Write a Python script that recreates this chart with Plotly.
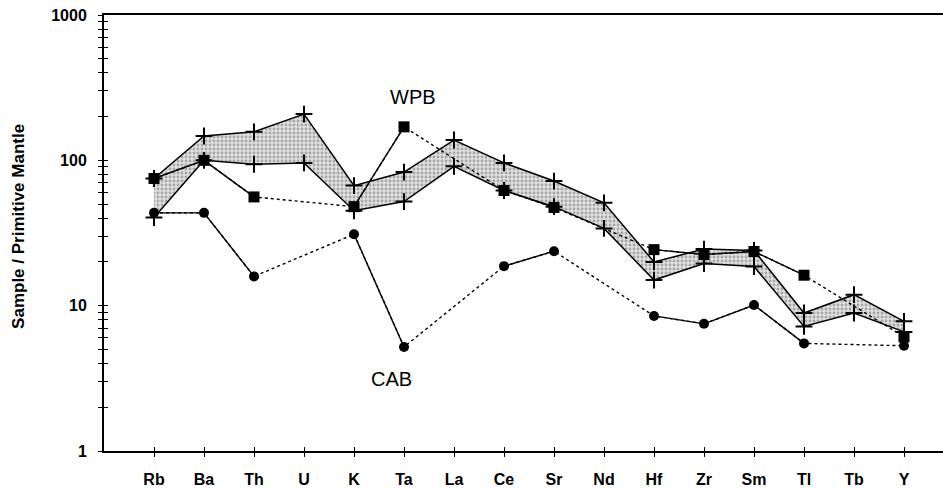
import plotly.graph_objects as go

elements = ["Rb", "Ba", "Th", "U", "K", "Ta", "La", "Ce", "Sr", "Nd", "Hf", "Zr", "Sm", "Tl", "Tb", "Y"]
wpb_upper = [75, 147, 157, 208, 67, 83, 138, 96, 72, 51, 20, 24.5, 24, 8.9, 11.9, 7.8]
wpb_lower = [40.4, 100, 94, 96, 45, 52, 91, 62, 48, 34, 15, 19.5, 18.6, 7.2, 8.9, 6.6]
wpb_square = [75, 100, 56, None, 48, 170, None, 62, 47.4, None, 24.3, 22.5, 23.6, 16.2, None, 6.1]
cab_circle = [43.5, 43.5, 15.9, None, 31, 5.2, None, 18.7, 23.7, None, 8.5, 7.5, 10.1, 5.5, None, 5.3]

y_ticks = [1, 2, 3, 4, 5, 6, 7, 8, 9, 10, 20, 30, 40, 50, 60, 70, 80, 90,
           100, 200, 300, 400, 500, 600, 700, 800, 900, 1000]
y_labels = ["1000" if v == 1000 else "100" if v == 100 else "10" if v == 10 else "1" if v == 1 else "" for v in y_ticks]

xpos = list(range(1, len(elements) + 1))

fig = go.Figure()

cross = dict(symbol="cross-thin", size=12, color="black", line=dict(width=2, color="black"))

fig.add_trace(go.Scatter(x=xpos, y=wpb_lower, mode="lines+markers",
                         line=dict(color="black", width=1.5), marker=cross, showlegend=False))
fig.add_trace(go.Scatter(x=xpos, y=wpb_upper, mode="lines+markers", fill="tonexty",
                         fillcolor="#d6d6d6",
                         fillpattern=dict(shape=".", fgcolor="#6e6e6e", bgcolor="#e0e0e0", size=4, solidity=0.4),
                         line=dict(color="black", width=1.5), marker=cross, showlegend=False))

for vals, sym, size in [(wpb_square, "square", 11), (cab_circle, "circle", 10)]:
    xs = [x for x, v in zip(xpos, vals) if v is not None]
    ys = [v for v in vals if v is not None]
    fig.add_trace(go.Scatter(x=xs, y=ys, mode="lines",
                             line=dict(color="black", width=1.4, dash="3px,3px"), showlegend=False))
    fig.add_trace(go.Scatter(x=xpos, y=vals, mode="lines+markers", connectgaps=False,
                             line=dict(color="black", width=1.4),
                             marker=dict(symbol=sym, size=size, color="black"), showlegend=False))

# dummy trace for overlay axes (inner half of crossing ticks)
fig.add_trace(go.Scatter(x=[None], y=[None], xaxis="x2", yaxis="y2", showlegend=False, hoverinfo="skip"))

tickfont = dict(family="Liberation Sans, Arial, sans-serif", size=16, color="black", weight="bold")

fig.update_layout(
    width=943, height=489,
    margin=dict(l=104, r=0, t=15, b=38),
    paper_bgcolor="white", plot_bgcolor="white",
    xaxis=dict(range=[0, 16.78], tickmode="array", tickvals=xpos, ticktext=elements,
               showgrid=False, zeroline=False, showline=True, linecolor="black", linewidth=2,
               mirror=True, ticks="outside", ticklen=4, tickwidth=1.3, tickcolor="black",
               tickfont=tickfont, ticklabelstandoff=9),
    yaxis=dict(type="log", range=[0, 3], tickmode="array", tickvals=y_ticks, ticktext=y_labels,
               showgrid=False, zeroline=False, showline=True, linecolor="black", linewidth=2,
               ticks="outside", ticklen=4, tickwidth=1.3, tickcolor="black",
               tickfont=tickfont, ticklabelstandoff=8),
    xaxis2=dict(overlaying="x", anchor="y2", range=[0, 16.78], tickmode="array", tickvals=xpos,
                showticklabels=False, showgrid=False, zeroline=False, showline=False,
                ticks="inside", ticklen=4, tickwidth=1.3, tickcolor="black", side="bottom"),
    yaxis2=dict(overlaying="y", anchor="x2", type="log", range=[0, 3], tickmode="array", tickvals=y_ticks,
                showticklabels=False, showgrid=False, zeroline=False, showline=False,
                ticks="inside", ticklen=4, tickwidth=1.3, tickcolor="black", side="left"),
    annotations=[
        dict(text="WPB", x=6.18, y=2.434, xref="x", yref="y", showarrow=False,
             font=dict(family="Liberation Sans, Arial, sans-serif", size=20, color="black")),
        dict(text="CAB", x=5.74, y=0.497, xref="x", yref="y", showarrow=False,
             font=dict(family="Liberation Sans, Arial, sans-serif", size=20, color="black")),
        dict(text="Sample / Primitive Mantle", x=(19 - 104) / 839, y=0.514, xref="paper", yref="paper",
             xanchor="center", yanchor="middle", textangle=-90, showarrow=False,
             font=dict(family="Liberation Sans, Arial, sans-serif", size=17, color="black", weight="bold")),
    ],
)

fig.write_html("out.html")
